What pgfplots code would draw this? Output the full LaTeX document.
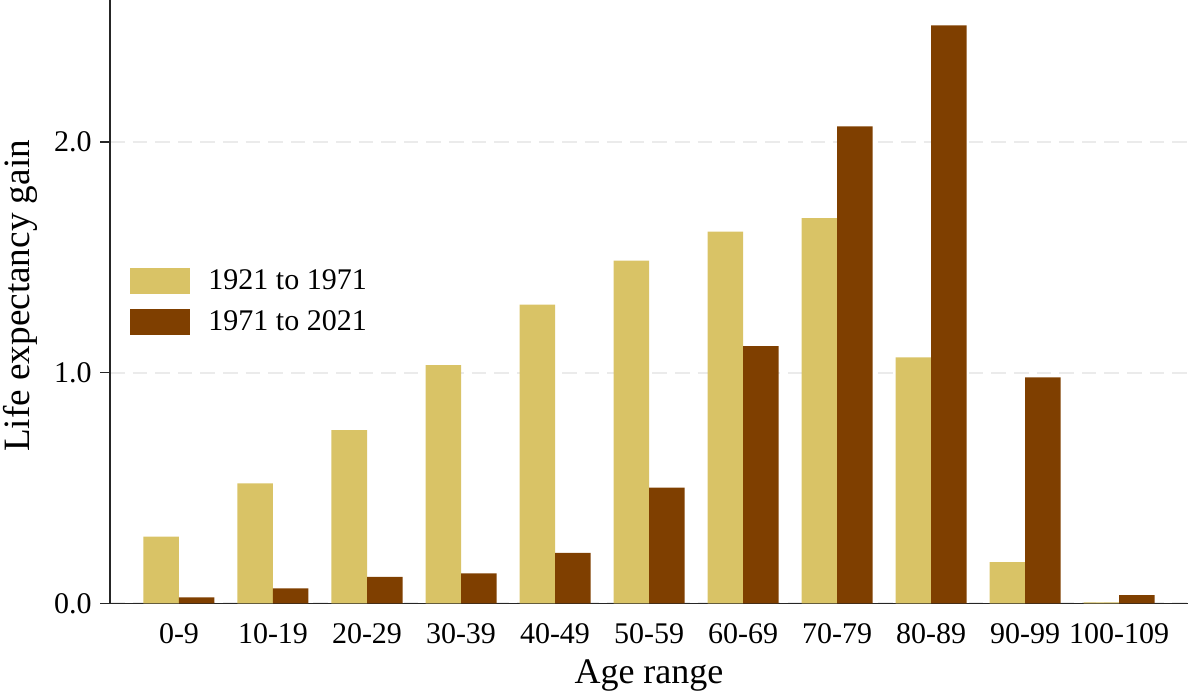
\documentclass[border=0pt]{standalone}
\usepackage{fontspec}
\setmainfont{Liberation Serif}
\usepackage{pgfplots}
\pgfplotsset{compat=1.18}
\definecolor{lightbar}{HTML}{D9C366}
\definecolor{darkbar}{HTML}{7F3F00}
\pgfplotsset{boxlegend/.style={legend image code/.code={\fill[##1] (0pt,-6.5pt) rectangle (30pt,6.5pt); \path (39pt,0pt);}}}
\begin{document}
\begin{tikzpicture}
\begin{axis}[
  at={(0,0)}, anchor=south west,
  scale only axis, width=539pt, height=301.75pt,
  xmin=-0.734, xmax=10.734, ymin=0, ymax=2.616,
  axis x line*=bottom, axis y line*=left,
  axis line style={line width=0.6pt, color=black!85},
  ybar=0pt, bar width=17.75pt,
  xtick={0,1,2,3,4,5,6,7,8,9,10},
  xticklabels={0-9,10-19,20-29,30-39,40-49,50-59,60-69,70-79,80-89,90-99,100-109},
  xtick style={draw=none},
  xticklabel style={anchor=base, yshift=-15pt},
  ytick={0,1,2}, yticklabels={0.0,1.0,2.0},
  ytick style={line width=0.6pt, color=black!85},
  tick align=outside, major tick length=5pt,
  yticklabel style={anchor=east, inner sep=0pt, xshift=-4pt},
  ymajorgrids,
  grid style={dash pattern=on 7.3pt off 4pt, line width=1pt, color=black!8},
  tick label style={font=\fontsize{15}{18}\selectfont},
  xlabel={Age range},
  xlabel style={at={(axis description cs:0.5,0)}, anchor=base, yshift=-39.9pt, font=\fontsize{18}{21}\selectfont},
  ylabel={Life expectancy gain},
  ylabel style={at={(axis description cs:-0.0835,0.5095)}, anchor=center, font=\fontsize{18.6}{21}\selectfont},
  legend style={at={(axis description cs:0.0186,0.556)}, anchor=north west, draw=none, fill=none,
    inner sep=0pt, row sep=7.5pt, font=\fontsize{15}{18}\selectfont,
    nodes={inner sep=0pt}},
  legend cell align=left,
]
\addplot[fill=lightbar, draw=none, boxlegend]
  coordinates {(0,0.290) (1,0.521) (2,0.752) (3,1.033) (4,1.295) (5,1.486) (6,1.612) (7,1.670) (8,1.067) (9,0.179) (10,0.005)};
\addlegendentry{1921 to 1971}
\addplot[fill=darkbar, draw=none, boxlegend]
  coordinates {(0,0.027) (1,0.066) (2,0.115) (3,0.131) (4,0.219) (5,0.502) (6,1.116) (7,2.068) (8,2.506) (9,0.980) (10,0.036)};
\addlegendentry{1971 to 2021}
\end{axis}
\pgfresetboundingbox
\path[use as bounding box] (-55pt,-45.25pt) rectangle (539pt,301.75pt);
\end{tikzpicture}
\end{document}
